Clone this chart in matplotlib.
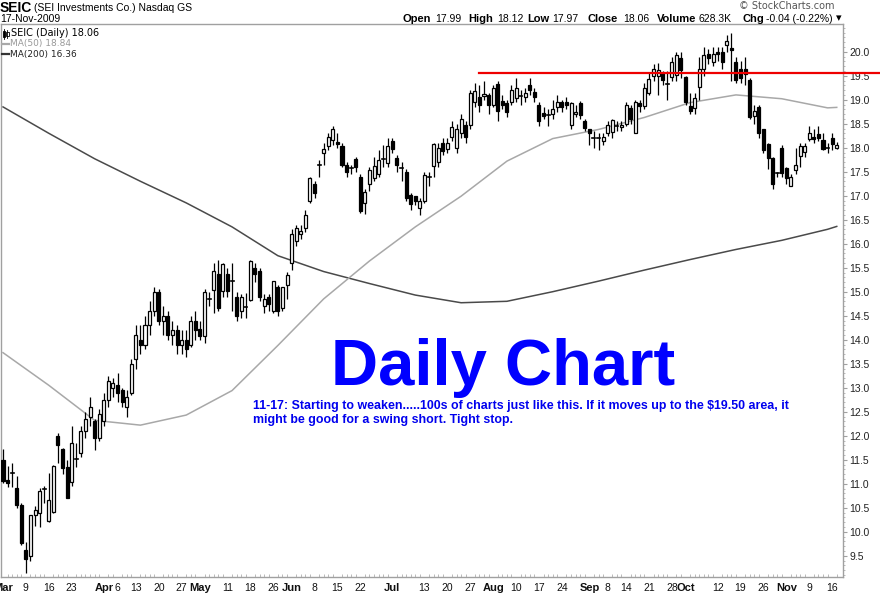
import matplotlib
matplotlib.use("Agg")
import matplotlib.pyplot as plt
from matplotlib.patches import Rectangle
from matplotlib.lines import Line2D
from matplotlib.ticker import MultipleLocator

W, H = 880, 595

# daily candles, SEIC, 2-Mar-2009 .. 17-Nov-2009 (one entry per trading day)
opens = [11.50, 11.08, 11.23, 10.91, 10.56, 9.62, 9.49, 10.35, 10.39, 10.88,
         10.23, 10.42, 12.00, 11.72, 11.35, 11.04, 11.52, 11.63, 12.10, 12.40,
         12.30, 11.95, 12.30, 12.75, 13.00, 13.05, 12.95, 12.60, 12.90, 13.60,
         14.00, 13.90, 14.30, 14.60, 15.00, 14.40, 14.50, 14.10, 14.20, 13.90,
         14.00, 13.90, 14.40, 14.23, 14.08, 14.84, 15.04, 15.37, 15.02, 15.37,
         15.22, 14.90, 14.60, 14.69, 14.83, 15.50, 15.43, 14.70, 14.88, 14.60,
         15.09, 14.67, 15.14, 15.60, 16.06, 16.20, 16.33, 16.90, 17.24, 17.65,
         17.88, 18.03, 18.17, 18.12, 18.03, 17.65, 17.58, 17.76, 17.40, 16.84,
         17.24, 17.37, 17.45, 17.77, 17.68, 18.13, 17.78, 17.58, 17.50, 17.01,
         16.99, 16.74, 16.90, 17.39, 17.61, 17.70, 18.10, 17.98, 18.23, 17.99,
         18.30, 18.48, 18.48, 18.95, 19.06, 19.08, 19.10, 18.90, 19.32, 18.98,
         18.93, 18.95, 19.03, 19.07, 19.05, 19.30, 19.17, 18.90, 18.72, 18.68,
         18.70, 18.84, 18.96, 18.95, 18.48, 18.70, 18.94, 18.55, 18.38, 18.21,
         18.21, 18.13, 18.30, 18.32, 18.45, 18.44, 18.50, 18.82, 18.30, 18.93,
         18.86, 19.15, 19.50, 19.50, 19.55, 19.32, 19.48, 19.52, 19.86, 19.48,
         18.86, 18.82, 19.27, 19.65, 19.96, 19.79, 20.00, 20.00, 20.14, 20.08,
         19.79, 19.65, 19.65, 19.41, 18.67, 18.84, 18.38, 18.07, 17.78, 17.48,
         18.00, 17.58, 17.20, 17.53, 17.82, 17.91, 18.19, 18.22, 18.28, 18.17,
         18.00, 18.20, 17.99]
highs = [11.72, 11.37, 11.44, 11.17, 10.60, 9.78, 10.35, 10.54, 10.91, 10.95,
         11.23, 11.40, 12.05, 11.75, 11.50, 12.20, 11.85, 12.20, 12.50, 12.80,
         12.35, 12.55, 12.90, 13.25, 13.20, 13.30, 13.00, 12.95, 13.60, 14.30,
         14.30, 14.50, 14.80, 15.10, 15.05, 14.70, 14.60, 14.40, 14.30, 14.20,
         14.20, 14.50, 14.60, 14.40, 15.05, 15.00, 15.60, 15.67, 15.60, 15.50,
         15.60, 15.00, 14.95, 14.98, 15.66, 15.60, 15.50, 14.95, 14.95, 15.23,
         15.15, 15.10, 15.42, 16.30, 16.40, 16.40, 16.70, 17.40, 17.30, 17.75,
         18.10, 18.30, 18.45, 18.30, 18.10, 17.70, 17.65, 17.80, 17.45, 17.15,
         17.60, 17.80, 17.95, 18.05, 18.20, 18.20, 17.85, 17.70, 17.55, 17.05,
         17.00, 16.95, 17.50, 17.50, 18.10, 18.10, 18.20, 18.20, 18.55, 18.50,
         18.70, 18.55, 19.20, 19.35, 19.30, 19.40, 19.15, 19.30, 19.40, 19.10,
         19.00, 19.30, 19.45, 19.20, 19.25, 19.45, 19.25, 18.95, 18.85, 18.80,
         19.00, 19.10, 19.00, 19.05, 18.95, 18.90, 18.98, 18.60, 18.40, 18.35,
         18.30, 18.30, 18.55, 18.60, 18.55, 18.55, 18.95, 18.90, 19.00, 19.00,
         19.35, 19.55, 19.75, 19.76, 19.60, 19.60, 19.90, 20.00, 20.00, 19.50,
         19.15, 19.15, 19.90, 20.10, 20.05, 20.10, 20.10, 20.10, 20.35, 20.38,
         19.90, 19.80, 19.90, 19.45, 18.90, 18.90, 18.40, 18.10, 17.80, 17.50,
         18.05, 17.60, 17.45, 18.00, 18.10, 18.10, 18.45, 18.40, 18.45, 18.30,
         18.10, 18.30, 18.12]
lows = [11.02, 10.93, 10.93, 10.50, 9.72, 9.15, 9.40, 10.12, 10.09, 10.60,
        10.21, 10.38, 11.44, 11.20, 10.70, 10.95, 11.35, 11.55, 11.95, 12.20,
        11.70, 11.90, 12.20, 12.60, 12.80, 12.70, 12.60, 12.40, 12.85, 13.40,
        13.70, 13.80, 14.10, 14.50, 14.30, 14.10, 14.00, 13.90, 13.70, 13.70,
        13.65, 13.85, 14.00, 14.00, 13.93, 14.70, 14.55, 14.60, 14.90, 14.90,
        14.60, 14.40, 14.45, 14.45, 14.80, 15.20, 14.80, 14.55, 14.60, 14.55,
        14.50, 14.60, 14.85, 15.45, 15.95, 16.10, 16.25, 16.85, 16.95, 17.40,
        17.65, 17.95, 18.05, 18.00, 17.60, 17.40, 17.45, 17.50, 16.65, 16.62,
        17.10, 17.30, 17.40, 17.60, 17.60, 17.90, 17.50, 17.30, 16.90, 16.70,
        16.80, 16.60, 16.85, 17.20, 17.40, 17.60, 17.85, 17.90, 18.15, 17.90,
        18.20, 18.10, 18.40, 18.85, 18.75, 19.00, 18.70, 18.85, 18.55, 18.80,
        18.65, 18.90, 18.95, 18.90, 18.95, 19.10, 18.95, 18.45, 18.60, 18.45,
        18.60, 18.75, 18.75, 18.80, 18.40, 18.65, 18.60, 18.35, 18.05, 18.00,
        17.95, 18.05, 18.25, 18.20, 18.35, 18.35, 18.45, 18.50, 18.30, 18.75,
        18.80, 19.10, 19.40, 19.10, 19.30, 19.00, 19.40, 19.40, 19.45, 18.90,
        18.70, 18.70, 19.00, 19.50, 19.75, 19.70, 19.80, 19.65, 20.00, 19.40,
        19.35, 19.35, 19.30, 18.60, 18.50, 18.20, 17.90, 17.55, 17.15, 17.40,
        17.40, 17.25, 17.20, 17.45, 17.60, 17.80, 18.15, 18.10, 18.15, 17.95,
        17.90, 17.95, 17.97]
closes = [11.06, 11.02, 11.21, 10.56, 9.77, 9.44, 10.35, 10.45, 10.85, 10.90,
          10.66, 11.37, 11.81, 11.32, 10.71, 11.84, 11.54, 12.10, 12.35, 12.60,
          11.95, 12.45, 12.75, 13.15, 13.10, 12.90, 12.70, 12.80, 13.50, 14.10,
          13.90, 14.30, 14.60, 15.00, 14.40, 14.50, 14.10, 14.20, 13.90, 14.00,
          13.80, 14.40, 14.20, 14.08, 15.00, 14.86, 15.43, 14.67, 15.58, 15.02,
          15.24, 14.50, 14.88, 14.71, 15.64, 15.37, 14.88, 14.85, 14.75, 15.23,
          14.60, 15.09, 15.35, 16.20, 16.33, 16.27, 16.60, 17.36, 17.05, 17.67,
          17.98, 18.23, 18.40, 18.08, 17.65, 17.50, 17.56, 17.60, 16.68, 17.08,
          17.53, 17.61, 17.74, 17.75, 18.03, 17.98, 17.65, 17.56, 16.95, 16.82,
          16.90, 16.89, 17.43, 17.37, 18.07, 18.00, 17.94, 18.10, 18.44, 18.40,
          18.60, 18.23, 19.13, 19.19, 18.90, 19.12, 18.88, 19.25, 18.77, 18.90,
          18.75, 19.20, 19.24, 19.05, 19.15, 19.20, 19.06, 18.55, 18.67, 18.70,
          18.80, 18.96, 18.84, 18.90, 18.93, 18.75, 18.69, 18.41, 18.30, 18.19,
          18.19, 18.23, 18.48, 18.57, 18.42, 18.48, 18.90, 18.59, 18.96, 18.87,
          19.24, 19.43, 19.65, 19.62, 19.41, 19.33, 19.79, 19.93, 19.62, 18.96,
          18.77, 19.03, 19.65, 19.93, 19.86, 19.96, 19.95, 19.78, 20.23, 20.04,
          19.42, 19.45, 19.53, 18.65, 18.77, 18.30, 17.96, 17.78, 17.24, 17.46,
          17.47, 17.37, 17.40, 17.63, 18.03, 18.03, 18.30, 18.18, 18.20, 17.98,
          17.98, 18.07, 18.06]

# moving averages (bar index, value)
ma_idx = [0, 10, 20, 30, 40, 50, 60, 70, 80, 90, 100, 110, 120, 130, 140,
          150, 160, 170, 180, 182]
ma50 = [13.73, 13.05, 12.32, 12.22, 12.43, 12.94, 13.88, 14.85, 15.64, 16.35,
        16.99, 17.72, 18.19, 18.38, 18.63, 18.94, 19.10, 19.02, 18.83, 18.84]
ma200 = [18.85, 18.30, 17.77, 17.30, 16.85, 16.35, 15.75, 15.42, 15.17, 14.93,
         14.77, 14.80, 15.00, 15.22, 15.45, 15.67, 15.88, 16.07, 16.30, 16.36]

# x labels: (bar index, text, is month)
x_labels = [(0, "Mar", True), (5, "9", False), (10, "16", False), (15, "23", False),
            (22, "Apr", True), (25, "6", False), (29, "13", False), (34, "20", False),
            (39, "27", False), (43, "May", True), (49, "11", False), (54, "18", False),
            (59, "26", False), (63, "Jun", True), (68, "8", False), (73, "15", False),
            (78, "22", False), (85, "Jul", True), (92, "13", False), (97, "20", False),
            (102, "27", False), (107, "Aug", True), (112, "10", False), (117, "17", False),
            (122, "24", False), (128, "Sep", True), (132, "8", False), (136, "14", False),
            (141, "21", False), (146, "28", False), (149, "Oct", True), (156, "12", False),
            (161, "19", False), (166, "26", False), (171, "Nov", True), (176, "9", False),
            (181, "16", False)]
y_ticks = [9.5, 10.0, 10.5, 11.0, 11.5, 12.0, 12.5, 13.0, 13.5, 14.0, 14.5,
           15.0, 15.5, 16.0, 16.5, 17.0, 17.5, 18.0, 18.5, 19.0, 19.5, 20.0]

resist_level = 19.55
resist_start = 104

header_parts = [("Open", True, 402), ("17.99", False, 435), ("High", True, 468),
                ("18.12", False, 497), ("Low", True, 527), ("17.97", False, 552),
                ("Close", True, 587), ("18.06", False, 623), ("Volume", True, 657),
                ("628.3K", False, 698), ("Chg", True, 742),
                ("-0.04 (-0.22%)", False, 766)]

note_lines = ["11-17: Starting to weaken.....100s of charts just like this. "
              "If it moves up to the $19.50 area, it",
              "might be good for a swing short. Tight stop."]

SANS = ["Liberation Sans", "DejaVu Sans"]


def fx(x):
    return x / W


def fy(y):
    return 1 - y / H


fig = plt.figure(figsize=(W / 100, H / 100), dpi=100, facecolor="white")
top_px, bot_px, left_px, right_px = 24, 577, 1, 843
ax = fig.add_axes([fx(left_px), fy(bot_px), (right_px - left_px) / W,
                   (bot_px - top_px) / H])

step = 4.581
x0_px = 3.0
ax.set_xlim((left_px - x0_px) / step, (right_px - x0_px) / step)
y_scale = 48.0
ax.set_ylim(20.0 - (bot_px - 51.7) / y_scale, 20.0 + (51.7 - top_px) / y_scale)

# moving averages
ax.plot(ma_idx, ma200, color="#4a4a4a", lw=1.1, zorder=2)
ax.plot(ma_idx, ma50, color="#a8a8a8", lw=1.1, zorder=2)

# candles
bw = 0.66
for i, (o, h, l, c) in enumerate(zip(opens, highs, lows, closes)):
    ax.plot([i, i], [l, h], color="black", lw=0.9, zorder=3,
            solid_capstyle="butt")
    lo, hi = min(o, c), max(o, c)
    face = "white" if c >= o else "black"
    if hi - lo < 0.03:
        ax.plot([i - bw / 2, i + bw / 2], [o, o], color="black", lw=1.2, zorder=4)
    else:
        ax.add_patch(Rectangle((i - bw / 2, lo), bw, hi - lo, facecolor=face,
                               edgecolor="black", lw=0.9, zorder=4))

# resistance line runs past the right axis to the edge of the image
xl = ax.get_xlim()
ax.axhline(resist_level, xmin=(resist_start - xl[0]) / (xl[1] - xl[0]),
           xmax=(W - left_px) / (right_px - left_px), color="#ee0000",
           lw=1.6, clip_on=False, zorder=5)

# axes styling
for s in ax.spines.values():
    s.set_color("#a0a0a0")
    s.set_linewidth(1.0)
ax.yaxis.tick_right()
ax.set_yticks(y_ticks)
ax.set_yticklabels([f"{v:.1f}" for v in y_ticks], fontsize=7.5, family=SANS)
ax.yaxis.set_minor_locator(MultipleLocator(0.1))
ax.tick_params(axis="y", which="major", length=3, width=0.8, color="#a0a0a0",
               pad=1.5, labelcolor="#222222")
ax.tick_params(axis="y", which="minor", length=1.5, width=0.6, color="#b0b0b0")

ax.set_xticks([p for p, _, _ in x_labels])
ax.set_xticklabels([t for _, t, _ in x_labels], fontsize=7.5, family=SANS)
for lab, (_, _, is_month) in zip(ax.get_xticklabels(), x_labels):
    if is_month:
        lab.set_fontweight("bold")
        lab.set_fontsize(8)
ax.set_xticks(range(len(closes)), minor=True)
ax.tick_params(axis="x", which="major", length=0, pad=4, labelcolor="#111111")
ax.tick_params(axis="x", which="minor", length=2, width=0.6, color="#b0b0b0",
               direction="in")

# header
fig.text(fx(0), fy(8), "SEIC", fontsize=10, fontweight="bold", family=SANS,
         va="center", ha="left")
fig.text(fx(34), fy(8), "(SEI Investments Co.) Nasdaq GS", fontsize=7.5,
         family=SANS, va="center", ha="left")
fig.text(fx(0), fy(18.5), "17-Nov-2009", fontsize=7.5, family=SANS,
         va="center", ha="left")
for txt, bold, xp in header_parts:
    fig.text(fx(xp), fy(18.5), txt, fontsize=8 if bold else 7.5,
             fontweight="bold" if bold else "normal", family=SANS,
             va="center", ha="left")
fig.text(fx(836), fy(18.5), "\u25be", fontsize=8, family="DejaVu Sans",
         va="center", ha="left")
fig.text(fx(834), fy(6), "\u00a9 StockCharts.com", fontsize=7, color="#555555",
         family="DejaVu Sans", va="center", ha="right")

# legend inside the plot
fig.add_artist(Rectangle((fx(2.5), fy(37)), 2.5 / W, 6 / H, transform=fig.transFigure,
                         facecolor="black", edgecolor="black", lw=0.6))
fig.add_artist(Rectangle((fx(6), fy(36)), 2.5 / W, 4 / H, transform=fig.transFigure,
                         facecolor="white", edgecolor="black", lw=0.6))
fig.add_artist(Line2D([fx(3.7), fx(3.7)], [fy(39), fy(29)], transform=fig.transFigure,
                      color="black", lw=0.6))
fig.add_artist(Line2D([fx(7.2), fx(7.2)], [fy(38), fy(29.5)], transform=fig.transFigure,
                      color="black", lw=0.6))
fig.text(fx(11), fy(33), "SEIC (Daily) 18.06", fontsize=7, family="DejaVu Sans",
         va="center", ha="left")
fig.add_artist(Line2D([fx(2), fx(9)], [fy(43.5), fy(43.5)], transform=fig.transFigure,
                      color="#a8a8a8", lw=1.6))
fig.text(fx(10), fy(43.5), "MA(50) 18.84", fontsize=6.5, family="DejaVu Sans",
         color="#999999", va="center", ha="left")
fig.add_artist(Line2D([fx(2), fx(9)], [fy(54), fy(54)], transform=fig.transFigure,
                      color="#333333", lw=1.6))
fig.text(fx(10), fy(54), "MA(200) 16.36", fontsize=6.5, family="DejaVu Sans",
         color="#222222", va="center", ha="left")

# annotations
fig.text(fx(503), fy(385), "Daily Chart", fontsize=47, fontweight="bold",
         family=SANS, color="#0000ff", ha="center", va="baseline")
fig.text(fx(253), fy(409.5), note_lines[0], fontsize=8.9, fontweight="bold",
         family=SANS, color="#0000ee", ha="left", va="baseline")
fig.text(fx(253), fy(423.5), note_lines[1], fontsize=8.9, fontweight="bold",
         family=SANS, color="#0000ee", ha="left", va="baseline")

fig.savefig("out.png", dpi=100, facecolor="white")
